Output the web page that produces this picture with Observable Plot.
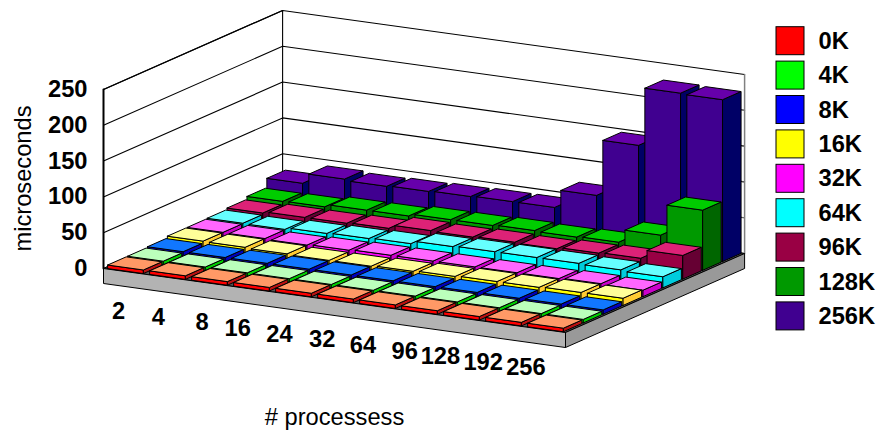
<!DOCTYPE html>
<html>
<head>
<meta charset="utf-8">
<script src="https://cdn.jsdelivr.net/npm/d3@7"></script>
<script src="https://cdn.jsdelivr.net/npm/@observablehq/plot@0.6"></script>
<style>
  html, body { margin: 0; padding: 0; background: #fff; }
  svg { display: block; }
</style>
</head>
<body>
<div id="chart"></div>
<script>
// Latency in microseconds, by process count (columns) and working-set size (rows).
const processes = ["2", "4", "8", "16", "24", "32", "64", "96", "128", "192", "256"];
const sizes = ["0K", "4K", "8K", "16K", "32K", "64K", "96K", "128K", "256K"];
const k0   = [5, 5, 5, 5, 5, 5, 5, 5, 5, 5, 5];
const k4   = [5, 5, 5, 5, 5, 5, 5, 5, 5, 5, 5];
const k8   = [6, 6, 6, 6, 6, 6, 6, 6, 6, 6, 6];
const k16  = [8.5, 8, 7, 6, 6, 7, 8, 9, 9, 10, 10];
const k32  = [8.5, 8, 7, 8, 9, 9, 9, 9, 9, 10, 9];
const k64  = [9, 8.5, 11, 12, 13, 17, 18, 18, 18, 17, 15.5];
const k96  = [11, 13, 13, 14, 19, 18, 19, 18, 20, 21, 33];
const k128 = [15, 15.5, 19, 19, 22, 22, 23, 22, 23, 41, 84];
const k256 = [28, 42, 40, 41, 42, 43, 43, 68, 146, 227, 226];
const rows = [k0, k4, k8, k16, k32, k64, k96, k128, k256];

// Face colours per series: front, top, right side.
const frontColors = ["#ff0000", "#00ff00", "#0000ff", "#ffff00", "#ff00ff", "#00ffff", "#990044", "#009900", "#400090"];
const topColors   = ["#ff9966", "#bbffbb", "#1177ff", "#ffff99", "#ff66ff", "#66ffff", "#dd2277", "#00cc00", "#6600aa"];
const sideColors  = ["#bb1111", "#00cc00", "#0000bb", "#ffcc33", "#cc00cc", "#00ccdd", "#660033", "#006600", "#000066"];
const zTicks = [0, 50, 100, 150, 200, 250];

// Oblique projection: i along the process axis, j along the size axis, v in microseconds.
const width = 882, height = 431;
const project = (i, j, v) => [
  103 + 42 * i + 19.9 * j,
  268 + 5.82 * i - 8.78 * j - 0.716 * v
];
const nI = processes.length, nJ = sizes.length, vMax = 250, slab = 15;

// Every box face becomes a closed outline in this list, in paint order.
const polys = [];
let nextId = 0;
function face(corners, fill) {
  const id = nextId++;
  for (const p of [...corners, corners[0]]) polys.push({id, x: p[0], y: p[1], fill});
}
const drop = ([x, y]) => [x, y + slab];

const A = project(0, 0, 0), B = project(0, nJ, 0), C = project(nI, nJ, 0), D = project(nI, 0, 0);
const At = project(0, 0, vMax), Bt = project(0, nJ, vMax), Ct = project(nI, nJ, vMax);

// Floor slab
face([A, B, C, D], "#555555");
face([A, D, drop(D), drop(A)], "#b3b3b3");
face([D, C, drop(C), drop(D)], "#999999");

// Gridlines across both walls
const gridLines = [];
zTicks.forEach(v => {
  for (const p of [project(0, 0, v), project(0, nJ, v), project(nI, nJ, v)]) {
    gridLines.push({id: v, x: p[0], y: p[1]});
  }
});

// Short ticks on the far right edge
const edgeTicks = zTicks.slice(1, -1).map(v => {
  const [x, y] = project(nI, nJ, v);
  return {x1: x - 3, x2: x, y};
});

// Bars, painted back to front and left to right
const barW = 0.85, barD = 0.93, offW = 0.08, offD = 0.04;
for (let j = nJ - 1; j >= 0; j--) {
  for (let i = 0; i < nI; i++) {
    const v = rows[j][i];
    const i0 = i + offW, i1 = i0 + barW, j0 = j + offD, j1 = j0 + barD;
    face([project(i0, j0, 0), project(i1, j0, 0), project(i1, j0, v), project(i0, j0, v)], frontColors[j]);
    face([project(i1, j0, 0), project(i1, j1, 0), project(i1, j1, v), project(i1, j0, v)], sideColors[j]);
    face([project(i0, j0, v), project(i1, j0, v), project(i1, j1, v), project(i0, j1, v)], topColors[j]);
  }
}

// Tick labels; the process labels get a small nudge so wide ones keep clear of each other
const labelNudge = [0, -1, 2, -3, -2, 0, 0, 1, -4, -2, 0];
const zLabels = zTicks.map(v => ({text: String(v), x: 87, y: project(0, 0, v)[1]}));
const xLabels = processes.map((text, i) => {
  const [px, py] = project(i * 0.97 + 0.5, 0, 0);
  return {text, x: px - 6 + labelNudge[i], y: py + 40};
});

// Legend entries
const legendTop = k => 26.7 + 34.4 * k;
const legend = sizes.map((text, k) => ({
  text, fill: frontColors[k], x1: 776, x2: 804, y1: legendTop(k), y2: legendTop(k) + 28,
  tx: 818, ty: legendTop(k) + 14
}));

const titles = [
  {text: "microseconds", x: 23, y: 178, rotate: -90},
  {text: "# processess", x: 334, y: 416.5, rotate: 0}
];

const segment = pts => pts.map(p => ({x: p[0], y: p[1]}));
const labelSize = 23.7;

const chart = Plot.plot({
  width, height,
  margin: 0,
  style: {background: "#fff", fontFamily: "'Liberation Sans', Arial, sans-serif"},
  x: {domain: [0, width], range: [0, width], axis: null},
  y: {domain: [0, height], range: [0, height], axis: null},
  marks: [
    Plot.line(gridLines, {x: "x", y: "y", z: "id", stroke: "#000", strokeWidth: 1.1}),
    Plot.line(segment([Bt, B]), {x: "x", y: "y", stroke: "#000", strokeWidth: 1.1}),
    Plot.line(segment([At, A]), {x: "x", y: "y", stroke: "#000", strokeWidth: 2}),
    Plot.line(segment([At, Bt]), {x: "x", y: "y", stroke: "#000", strokeWidth: 1.1}),
    Plot.line(segment([Ct, C]), {x: "x", y: "y", stroke: "#808080", strokeWidth: 1.5}),
    Plot.link(edgeTicks, {x1: "x1", x2: "x2", y1: "y", y2: "y", stroke: "#808080"}),
    Plot.line(polys, {x: "x", y: "y", z: "id", fill: "fill", stroke: "#000", strokeWidth: 1, strokeLinejoin: "round"}),
    Plot.text(zLabels, {x: "x", y: "y", text: "text", textAnchor: "end", fontSize: labelSize, fontWeight: "bold", fill: "#000"}),
    Plot.text(xLabels, {x: "x", y: "y", text: "text", fontSize: labelSize, fontWeight: "bold", fill: "#000"}),
    Plot.text(titles, {x: "x", y: "y", text: "text", rotate: "rotate", fontSize: labelSize, fill: "#000"}),
    Plot.rect(legend, {x1: "x1", x2: "x2", y1: "y1", y2: "y2", fill: "fill", stroke: "#000", strokeWidth: 1}),
    Plot.text(legend, {x: "tx", y: "ty", text: "text", textAnchor: "start", fontSize: labelSize, fontWeight: "bold", fill: "#000"})
  ]
});
document.getElementById("chart").append(chart);
</script>
</body>
</html>
